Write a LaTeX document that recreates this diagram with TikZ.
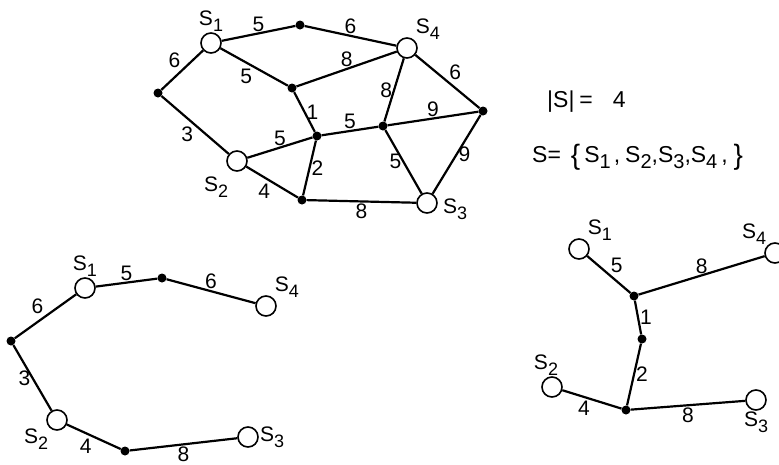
\documentclass[tikz,border=0pt]{standalone}
\usepackage{fontspec}
\setmainfont{Liberation Sans}
\usetikzlibrary{positioning}
\tikzstyle{term}=[circle, draw=black, fill=white, line width=1.6pt, inner sep=0pt, minimum size=20pt]
\tikzstyle{stn}=[circle, fill=black, inner sep=0pt, minimum size=9pt]
\tikzstyle{wire}=[line width=2.2pt]
\tikzstyle{wt}=[inner sep=1pt, font=\fontsize{21}{21}\selectfont]
\tikzstyle{big}=[inner sep=0pt, anchor=base west, font=\fontsize{23}{23}\selectfont]
\newcommand{\Sn}[1]{S\raisebox{-6pt}{\fontsize{18}{18}\selectfont #1}}
\newcommand{\Sm}[1]{S\raisebox{-6pt}{\fontsize{20}{20}\selectfont #1}}
\newcommand{\brc}[1]{\raisebox{-2pt}{\fontsize{28}{28}\selectfont #1}}
\begin{document}
\begin{tikzpicture}[x=1pt, y=-1pt]
        \useasboundingbox (0,0) rectangle (779,464);
        % the whole graph
        \node[term] (s1) at (211,43) [label={[wt]above:{\Sn{1}}}] {};
        \node[term] (s4) at (407,48) [label={[wt]above right:{\Sn{4}}}] {};
        \node[term] (s2) at (237,161) [label={[wt, yshift=-7pt]below left:{\Sn{2}}}] {};
        \node[term] (s3) at (427,203) [label={[wt, xshift=4pt, yshift=-6pt]right:{\Sn{3}}}] {};
        \node[stn] (t) at (300,25) {};
        \node[stn] (l) at (158,93) {};
        \node[stn] (a) at (292,88) {};
        \node[stn] (r) at (483,111) {};
        \node[stn] (b) at (317,136) {};
        \node[stn] (c) at (383,126) {};
        \node[stn] (d) at (302,200) {};
        \draw[wire] (s1) edge node[wt, above] {5} (t);
        \draw[wire] (t) edge node[wt, above] {6} (s4);
        \draw[wire] (l) edge node[wt, above left] {6} (s1);
        \draw[wire] (s1) edge node[wt, below left] {5} (a);
        \draw[wire] (a) edge node[wt, above] {8} (s4);
        \draw[wire] (s4) edge node[wt, above right] {6} (r);
        \draw[wire] (s4) edge node[wt, left] {8} (c);
        \draw[wire] (a) edge node[wt, right] {1} (b);
        \draw[wire] (c) edge node[wt, above] {9} (r);
        \draw[wire] (b) edge node[wt, above] {5} (c);
        \draw[wire] (l) edge node[wt, below left] {3} (s2);
        \draw[wire] (s2) edge node[wt, above] {5} (b);
        \draw[wire] (b) edge node[wt, right] {2} (d);
        \draw[wire] (c) edge node[wt, left] {5} (s3);
        \draw[wire] (r) edge node[wt, right] {9} (s3);
        \draw[wire] (s2) edge node[wt, below left] {4} (d);
        \draw[wire] (d) edge node[wt, below] {8} (s3);
        % the set of terminals
        \node[big] (card) at (547,107) {|S|\hspace{5pt}=\hspace{20pt}4};
        \node[big] (set) at (532,162)
            {S=\hspace{10pt}\brc{\{}\hspace{4pt}\Sm{1}\hspace{3pt},\hspace{5pt}\Sm{2},\Sm{3},\Sm{4}\hspace{4pt},\hspace{6pt}\brc{\}}};
        % first tree
        \node[term] (p1) at (85,288) [label={[wt]above:{\Sn{1}}}] {};
        \node[term] (p4) at (266,306) [label={[wt]above right:{\Sn{4}}}] {};
        \node[term] (p2) at (57,420) [label={[wt]below left:{\Sn{2}}}] {};
        \node[term] (p3) at (248,437) [label={[wt]right:{\Sn{3}}}] {};
        \node[stn] (pt) at (162,278) {};
        \node[stn] (pl) at (11,341) {};
        \node[stn] (pd) at (125,451) {};
        \draw[wire] (p1) edge node[wt, above] {5} (pt);
        \draw[wire] (pt) edge node[wt, above] {6} (p4);
        \draw[wire] (pl) edge node[wt, above left] {6} (p1);
        \draw[wire] (pl) edge node[wt, left] {3} (p2);
        \draw[wire] (p2) edge node[wt, below left] {4} (pd);
        \draw[wire] (pd) edge node[wt, below] {8} (p3);
        % second tree
        \node[term] (q1) at (579,249) [label={[wt]above right:{\Sn{1}}}] {};
        \node[term] (q4) at (775,253) [label={[wt]above left:{\Sn{4}}}] {};
        \node[term] (q2) at (552,387) [label={[wt, xshift=-6pt]above:{\Sn{2}}}] {};
        \node[term] (q3) at (756,400) [label={[wt]below:{\Sn{3}}}] {};
        \node[stn] (qa) at (634,296) {};
        \node[stn] (qb) at (642,339) {};
        \node[stn] (qc) at (626,410) {};
        \draw[wire] (q1) edge node[wt, above right] {5} (qa);
        \draw[wire] (qa) edge node[wt, above] {8} (q4);
        \draw[wire] (qa) edge node[wt, right] {1} (qb);
        \draw[wire] (qb) edge node[wt, right] {2} (qc);
        \draw[wire] (q2) edge node[wt, below left] {4} (qc);
        \draw[wire] (qc) edge node[wt, below] {8} (q3);
\end{tikzpicture}
\end{document}
